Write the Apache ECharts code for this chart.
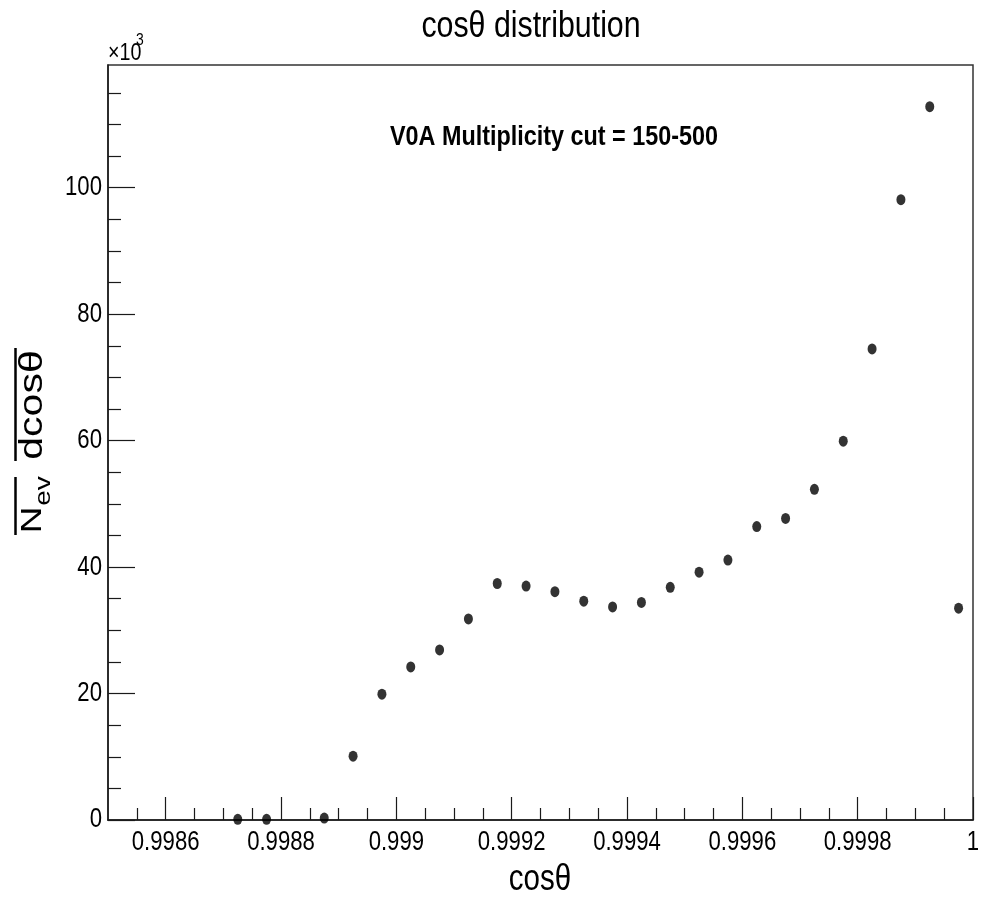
<!DOCTYPE html>
<html>
<head>
<meta charset="utf-8">
<title>cosθ distribution</title>
<script src="https://cdn.jsdelivr.net/npm/echarts@6/dist/echarts.min.js"></script>
<style>
  html, body { margin: 0; padding: 0; background: #fff; }
  #chart { width: 990px; height: 899px; }
</style>
</head>
<body>
<div id="chart"></div>
<script>
// Bin centres of cos(theta), bin width 0.00005
const cosTheta = [
  0.998725, 0.998775, 0.998875, 0.998925, 0.998975, 0.999025, 0.999075,
  0.999125, 0.999175, 0.999225, 0.999275, 0.999325, 0.999375, 0.999425,
  0.999475, 0.999525, 0.999575, 0.999625, 0.999675, 0.999725, 0.999775,
  0.999825, 0.999875, 0.999925, 0.999975
];
// 1/N_ev dN/dcos(theta), in units of 10^3
const dNdCos = [
  0.1, 0.1, 0.3, 10.1, 19.9, 24.2, 26.9,
  31.8, 37.4, 37.0, 36.1, 34.6, 33.7, 34.4,
  36.8, 39.2, 41.1, 46.4, 47.7, 52.3, 59.9,
  74.5, 98.1, 112.8, 33.5
];
// Axis ticks and their labels
const xMajorTicks = [0.9986, 0.9988, 0.999, 0.9992, 0.9994, 0.9996, 0.9998, 1];
const xTickLabels = ['0.9986', '0.9988', '0.999', '0.9992', '0.9994', '0.9996', '0.9998', '1'];
const yMajorTicks = [0, 20, 40, 60, 80, 100];
const yTickLabels = ['0', '20', '40', '60', '80', '100'];

const xMin = 0.9985, xMax = 1.0;
const yMin = 0, yMax = 119.4;

// minor ticks: 4 subdivisions per major interval on both axes
const xMinorTicks = [];
for (let i = 1; i < 30; i++) {
  const v = Math.round((xMin + i * 0.00005) * 1e6) / 1e6;
  if (!xMajorTicks.some(m => Math.abs(m - v) < 1e-9)) xMinorTicks.push(v);
}
const yMinorTicks = [];
for (let v = 5; v < yMax; v += 5) {
  if (v % 20 !== 0) yMinorTicks.push(v);
}

const SANS = '"Liberation Sans", Arial, sans-serif';
const AXIS_COLOR = '#1a1a1a';
const NARROW_X = 0.82;   // horizontal squeeze of the Helvetica-style lettering

const chart = echarts.init(document.getElementById('chart'), null, { renderer: 'canvas' });

chart.setOption({
  animation: false,
  backgroundColor: '#fff',
  grid: { left: 108, right: 17, top: 65, bottom: 79, show: true,
    borderColor: '#333', borderWidth: 1.5, backgroundColor: 'transparent' },
  xAxis: [
    {
      type: 'value', min: xMin, max: xMax,
      axisLine: { show: true, onZero: false, lineStyle: { color: AXIS_COLOR, width: 1.5 } },
      axisTick: { show: true, inside: true, length: 23, customValues: xMajorTicks,
        lineStyle: { color: AXIS_COLOR, width: 1.2 } },
      axisLabel: { show: false },
      splitLine: { show: false }
    },
    {
      type: 'value', min: xMin, max: xMax, position: 'bottom',
      axisLine: { show: false },
      axisTick: { show: true, inside: true, length: 12, customValues: xMinorTicks,
        lineStyle: { color: AXIS_COLOR, width: 1.2 } },
      axisLabel: { show: false },
      splitLine: { show: false }
    }
  ],
  yAxis: [
    {
      type: 'value', min: yMin, max: yMax,
      axisLine: { show: true, onZero: false, lineStyle: { color: AXIS_COLOR, width: 1.5 } },
      axisTick: { show: true, inside: true, length: 27, customValues: yMajorTicks,
        lineStyle: { color: AXIS_COLOR, width: 1.2 } },
      axisLabel: { show: false },
      splitLine: { show: false }
    },
    {
      type: 'value', min: yMin, max: yMax, position: 'left',
      axisLine: { show: false },
      axisTick: { show: true, inside: true, length: 13, customValues: yMinorTicks,
        lineStyle: { color: AXIS_COLOR, width: 1.2 } },
      axisLabel: { show: false },
      splitLine: { show: false }
    }
  ],
  series: [
    {
      type: 'scatter',
      xAxisIndex: 0, yAxisIndex: 0,
      data: cosTheta.map((x, i) => [x, dNdCos[i]]),
      symbol: 'circle',
      symbolSize: [9, 11],
      itemStyle: { color: '#000' },
      clip: false
    }
  ]
});

// Tick labels in squeezed lettering, placed through the axes' own scales
const xAxisPixelY = chart.convertToPixel({ yAxisIndex: 0 }, yMin);
const yAxisPixelX = chart.convertToPixel({ xAxisIndex: 0 }, xMin);

const labelEls = [];
xMajorTicks.forEach((v, i) => {
  labelEls.push({
    type: 'text', x: chart.convertToPixel({ xAxisIndex: 0 }, v), y: xAxisPixelY + 23,
    scaleX: NARROW_X,
    style: { text: xTickLabels[i], font: '27px ' + SANS, fill: '#000',
      align: 'center', verticalAlign: 'middle' }
  });
});
yMajorTicks.forEach((v, i) => {
  labelEls.push({
    type: 'text', x: yAxisPixelX - 6, y: chart.convertToPixel({ yAxisIndex: 0 }, v),
    scaleX: NARROW_X,
    style: { text: yTickLabels[i], font: '27px ' + SANS, fill: '#000',
      align: 'right', verticalAlign: 'middle' }
  });
});

chart.setOption({
  graphic: labelEls.concat([
    // title
    { type: 'text', x: 531, y: 27, scaleX: NARROW_X,
      style: { text: 'cosθ distribution', font: '37px ' + SANS, fill: '#000',
        align: 'center', verticalAlign: 'middle' } },
    // annotation inside the frame
    { type: 'text', x: 554, y: 137, scaleX: NARROW_X,
      style: { text: 'V0A Multiplicity cut = 150-500', font: 'bold 28.5px ' + SANS, fill: '#000',
        align: 'center', verticalAlign: 'middle' } },
    // exponent of the y axis
    { type: 'text', x: 108, y: 53, scaleX: NARROW_X,
      style: { text: '×10', font: '24px ' + SANS, fill: '#000',
        align: 'left', verticalAlign: 'middle' } },
    { type: 'text', x: 136, y: 40, scaleX: NARROW_X,
      style: { text: '3', font: '17px ' + SANS, fill: '#000',
        align: 'left', verticalAlign: 'middle' } },
    // x axis title
    { type: 'text', x: 540, y: 880, scaleX: NARROW_X,
      style: { text: 'cosθ', font: '36px ' + SANS, fill: '#000',
        align: 'center', verticalAlign: 'middle' } },
    // y axis title: 1/N_ev dN/dcosθ (denominators under their fraction bars)
    { type: 'text', x: 33, y: 405, rotation: Math.PI / 2, scaleY: NARROW_X,
      style: { text: 'dcosθ', font: '41px ' + SANS, fill: '#000',
        align: 'center', verticalAlign: 'middle' } },
    { type: 'text', x: 33, y: 520, rotation: Math.PI / 2, scaleY: NARROW_X,
      style: { text: 'N', font: '37px ' + SANS, fill: '#000',
        align: 'center', verticalAlign: 'middle' } },
    { type: 'text', x: 44, y: 491, rotation: Math.PI / 2, scaleY: NARROW_X,
      style: { text: 'ev', font: '28px ' + SANS, fill: '#000',
        align: 'center', verticalAlign: 'middle' } },
    { type: 'line', shape: { x1: 15.5, y1: 348, x2: 15.5, y2: 461 },
      style: { stroke: '#000', lineWidth: 2.5 } },
    { type: 'line', shape: { x1: 15.5, y1: 477, x2: 15.5, y2: 535 },
      style: { stroke: '#000', lineWidth: 2.5 } }
  ])
});
</script>
</body>
</html>
